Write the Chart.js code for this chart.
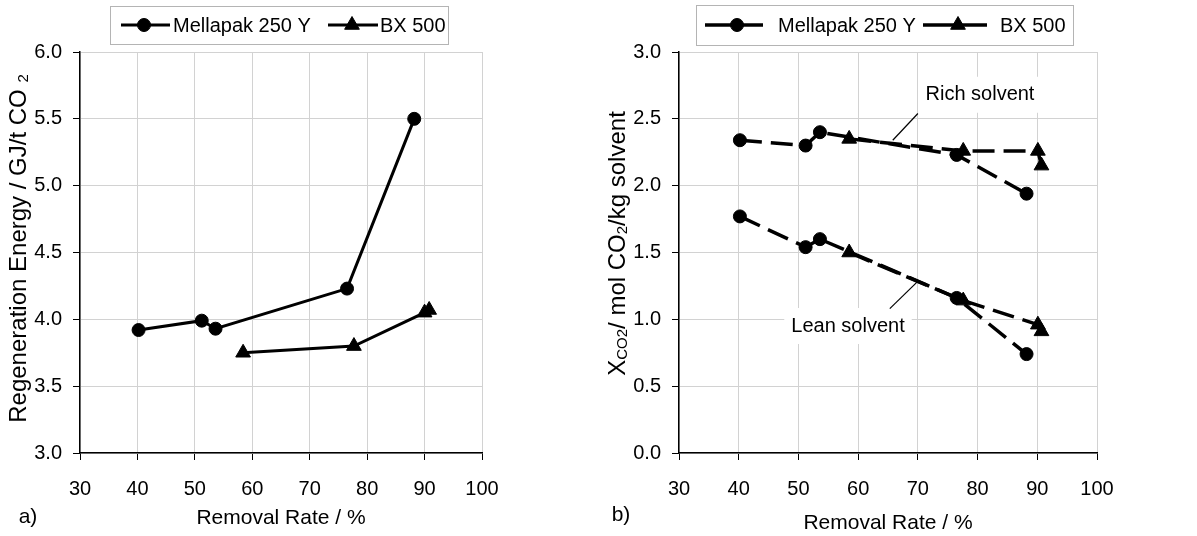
<!DOCTYPE html>
<html>
<head>
<meta charset="utf-8">
<title>Regeneration energy and CO2 loading vs removal rate</title>
<script src="https://cdn.jsdelivr.net/npm/chart.js"></script>
<style>
  body { margin: 0; background: #fff; }
  #wrap { position: relative; width: 1197px; height: 536px; }
  canvas { position: absolute; top: 0; }
</style>
</head>
<body>
<div id="wrap">
  <canvas id="chartA" width="598" height="536" style="left:0"></canvas>
  <canvas id="chartB" width="599" height="536" style="left:598px"></canvas>
</div>
<script>
// a) regeneration energy, GJ/t CO2
const rateMellapak = [40.2, 51.2, 53.6, 76.5, 88.2];
const energyMellapak = [3.92, 3.99, 3.93, 4.23, 5.50];
const rateBX = [58.4, 77.7, 90.0, 90.8];
const energyBX = [3.75, 3.80, 4.05, 4.07];

// b) CO2 loading, mol CO2/kg solvent
const richMellapak = [2.34, 2.30, 2.40, 2.23, 1.94];
const leanMellapak = [1.77, 1.54, 1.60, 1.16, 0.74];
const rateBXb = [58.5, 77.6, 90.1, 90.7];
const richBX = [2.35, 2.26, 2.26, 2.15];
const leanBX = [1.50, 1.14, 0.96, 0.91];

const seriesNames = ['Mellapak 250 Y', 'BX 500'];
const xRange = [30, 100];
const yRangeA = [3, 6];
const yRangeB = [0, 3];

const FONT = "'Liberation Sans', Arial, sans-serif";
const GRID = '#d2d2d2';
const DASH = [22, 9];

const pts = (xs, ys) => xs.map((x, i) => ({ x: x, y: ys[i] }));

function series(data, style, dashed) {
  return {
    data: data,
    showLine: true,
    borderColor: '#000',
    backgroundColor: '#000',
    borderWidth: dashed ? 3.5 : 3,
    borderDash: dashed ? DASH : [],
    pointStyle: style,
    pointRadius: style === 'triangle' ? 8.5 : 6.5,
    pointHoverRadius: style === 'triangle' ? 8.5 : 6.5,
    pointBorderWidth: 1
  };
}

function makeOptions(yRange, rightPad, yWidth, xTitlePad) {
  return {
    responsive: false,
    animation: false,
    layout: { padding: { top: 52, right: rightPad, bottom: 0, left: 0 } },
    plugins: { legend: { display: false }, tooltip: { enabled: false } },
    scales: {
      x: {
        type: 'linear', min: xRange[0], max: xRange[1],
        afterFit: s => { s.height = 83; },
        grid: { color: GRID, tickColor: '#000', tickLength: 7 },
        border: { color: '#000', width: 1.5 },
        ticks: { stepSize: 10, padding: 17, color: '#000', font: { family: FONT, size: 20 } },
        title: { display: true, text: 'Removal Rate / %', color: '#000',
                 font: { family: FONT, size: 21 }, padding: { top: 0, bottom: xTitlePad } }
      },
      y: {
        min: yRange[0], max: yRange[1],
        afterFit: s => { s.width = yWidth; },
        grid: { color: GRID, tickColor: '#000', tickLength: 7 },
        border: { color: '#000', width: 1.5 },
        ticks: { stepSize: 0.5, padding: 11, color: '#000', font: { family: FONT, size: 20 },
                 callback: v => v.toFixed(1) }
      }
    }
  };
}

// rotated y title with subscripts
function drawYTitle(ctx, segs, cx, cy) {
  const main = '24px ' + FONT, sub = '15px ' + FONT;
  ctx.save();
  ctx.translate(cx, cy);
  ctx.rotate(-Math.PI / 2);
  ctx.fillStyle = '#000';
  ctx.textAlign = 'left';
  ctx.textBaseline = 'middle';
  let total = 0;
  segs.forEach(s => { ctx.font = s.sub ? sub : main; s.w = ctx.measureText(s.t).width; total += s.w; });
  let u = -total / 2;
  segs.forEach(s => {
    ctx.font = s.sub ? sub : main;
    ctx.fillText(s.t, u, s.sub ? 5 : 0);
    u += s.w;
  });
  ctx.restore();
}

function drawLegend(ctx, lg, dashed) {
  ctx.save();
  ctx.strokeStyle = '#b4b4b4';
  ctx.lineWidth = 1;
  ctx.strokeRect(lg.box[0] + 0.5, lg.box[1] + 0.5, lg.box[2], lg.box[3]);
  const y = lg.box[1] + lg.box[3] / 2;
  lg.items.forEach((it, i) => {
    ctx.strokeStyle = '#000';
    ctx.fillStyle = '#000';
    ctx.lineWidth = dashed ? 3.5 : 3;
    ctx.beginPath();
    ctx.moveTo(it.x1, y);
    ctx.lineTo(it.x2, y);
    ctx.stroke();
    ctx.lineWidth = 1;
    Chart.helpers.drawPoint(ctx, { pointStyle: it.style, radius: it.style === 'triangle' ? 8.5 : 6.5, rotation: 0, borderWidth: 1 }, it.mx, y);
    ctx.font = '20px ' + FONT;
    ctx.textAlign = 'left';
    ctx.textBaseline = 'middle';
    ctx.fillText(seriesNames[i], it.tx, y + 1);
  });
  ctx.restore();
}

function drawPanelLabel(ctx, text, x, y) {
  ctx.save();
  ctx.font = '21px ' + FONT;
  ctx.fillStyle = '#000';
  ctx.textAlign = 'center';
  ctx.textBaseline = 'middle';
  ctx.fillText(text, x, y);
  ctx.restore();
}

// ---------- panel a ----------
new Chart(document.getElementById('chartA'), {
  type: 'scatter',
  data: {
    datasets: [
      series(pts(rateMellapak, energyMellapak), 'circle', false),
      series(pts(rateBX, energyBX), 'triangle', false)
    ]
  },
  options: makeOptions(yRangeA, 116, 80, 5),
  plugins: [{
    id: 'extrasA',
    afterDraw(chart) {
      const ctx = chart.ctx, a = chart.chartArea;
      drawYTitle(ctx, [{ t: 'Regeneration Energy / GJ/t CO ' }, { t: '2', sub: true }], 19, (a.top + a.bottom) / 2 - 4);
      drawLegend(ctx, {
        box: [110, 6, 338, 38],
        items: [
          { style: 'circle', x1: 121, x2: 170, mx: 144, tx: 173 },
          { style: 'triangle', x1: 328, x2: 378, mx: 352, tx: 380 }
        ]
      }, false);
      drawPanelLabel(ctx, 'a)', 28, 517);
    }
  }]
});

// ---------- panel b ----------
const notes = [
  { text: 'Rich solvent', at: [80.4, 2.68], from: [65.8, 2.34], to: [70.0, 2.54] },
  { text: 'Lean solvent', at: [58.3, 0.95], from: [69.9, 1.28], to: [65.3, 1.08] }
];

new Chart(document.getElementById('chartB'), {
  type: 'scatter',
  data: {
    datasets: [
      series(pts(rateMellapak, richMellapak), 'circle', true),
      series(pts(rateMellapak, leanMellapak), 'circle', true),
      series(pts(rateBXb, richBX), 'triangle', true),
      series(pts(rateBXb, leanBX), 'triangle', true)
    ]
  },
  options: makeOptions(yRangeB, 100, 81, 0),
  plugins: [{
    id: 'extrasB',
    beforeDatasetsDraw(chart) {
      const ctx = chart.ctx, sx = chart.scales.x, sy = chart.scales.y;
      ctx.save();
      ctx.font = '20px ' + FONT;
      ctx.textAlign = 'center';
      ctx.textBaseline = 'middle';
      notes.forEach(n => {
        const cx = sx.getPixelForValue(n.at[0]), cy = sy.getPixelForValue(n.at[1]);
        const w = ctx.measureText(n.text).width + 14;
        ctx.fillStyle = '#fff';
        ctx.fillRect(cx - w / 2, cy - 18, w, 36);
        ctx.fillStyle = '#000';
        ctx.fillText(n.text, cx, cy);
        ctx.strokeStyle = '#000';
        ctx.lineWidth = 1.2;
        ctx.beginPath();
        ctx.moveTo(sx.getPixelForValue(n.from[0]), sy.getPixelForValue(n.from[1]));
        ctx.lineTo(sx.getPixelForValue(n.to[0]), sy.getPixelForValue(n.to[1]));
        ctx.stroke();
      });
      ctx.restore();
    },
    afterDraw(chart) {
      const ctx = chart.ctx, a = chart.chartArea;
      drawYTitle(ctx, [{ t: 'X' }, { t: 'CO2', sub: true }, { t: '/ mol CO' }, { t: '2', sub: true }, { t: '/kg solvent' }], 20, (a.top + a.bottom) / 2 - 9);
      drawLegend(ctx, {
        box: [98, 5, 377, 40],
        items: [
          { style: 'circle', x1: 107, x2: 165, mx: 139, tx: 180 },
          { style: 'triangle', x1: 325, x2: 389, mx: 360, tx: 402 }
        ]
      }, true);
      drawPanelLabel(ctx, 'b)', 23, 515);
    }
  }]
});
</script>
</body>
</html>
